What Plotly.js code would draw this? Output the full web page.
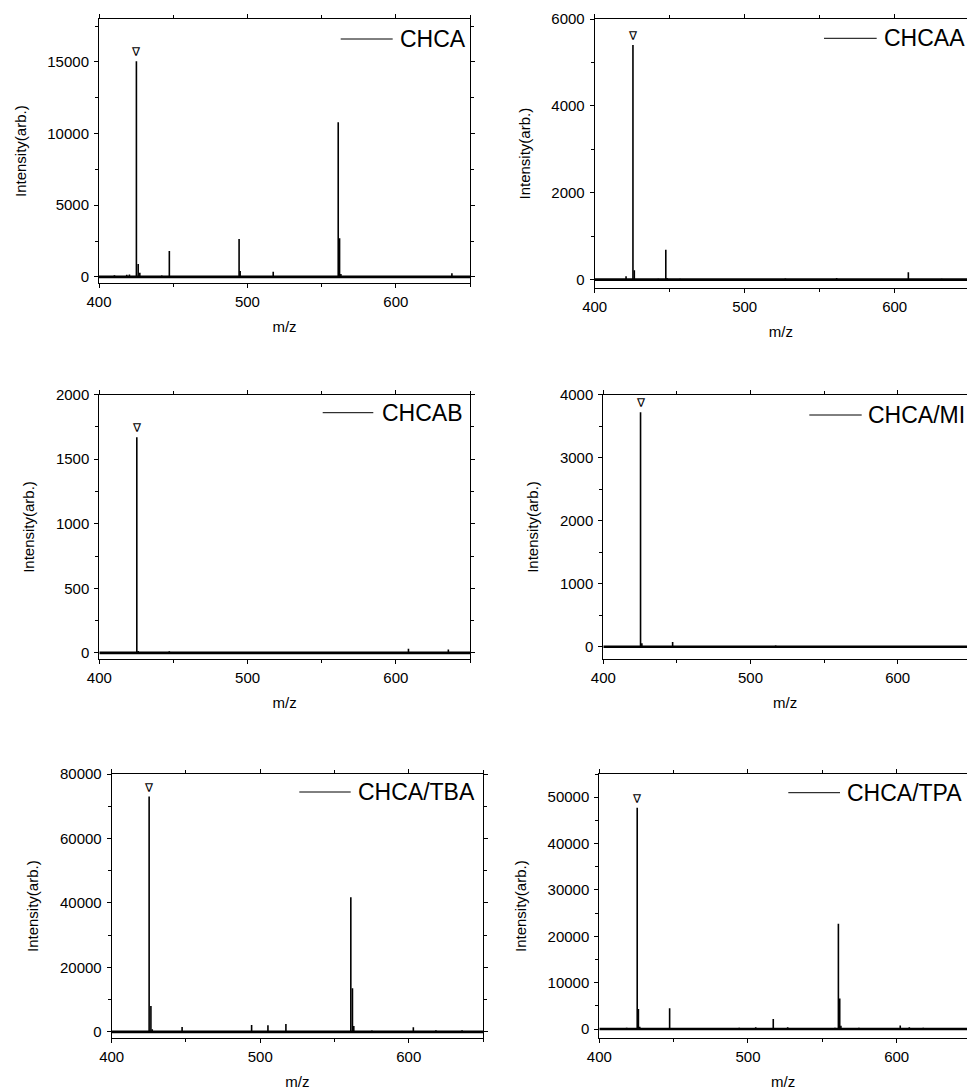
<!DOCTYPE html>
<html><head><meta charset="utf-8">
<script src="https://cdn.plot.ly/plotly-3.0.1.min.js"></script>
<style>html,body{margin:0;padding:0;background:#fff}</style>
</head><body><div id="chart" style="width:967px;height:1090px"></div>
<script>
// ---------------- data ----------------
const samples = ["CHCA", "CHCAA", "CHCAB", "CHCA/MI", "CHCA/TBA", "CHCA/TPA"];
const xTitle = "m/z";
const yTitle = "Intensity(arb.)";
const peakMark = "∇";

const mz_CHCA  = [410.4, 418.7, 420.5, 425.2, 426.4, 427.5, 442.3, 447.4, 494.4, 495.1, 517.4, 561.2, 562.1, 563.0, 609.0, 637.8];
const int_CHCA = [110, 150, 160, 15050, 890, 280, 90, 1800, 2650, 400, 350, 10800, 2700, 200, 60, 250];

const mz_CHCAA  = [420.9, 425.5, 426.4, 442.4, 447.4, 448.2, 456.9, 505.0, 527.1, 561.3, 609.1, 631.3];
const int_CHCAA = [75, 5400, 215, 20, 690, 40, 20, 15, 25, 35, 170, 20];

const mz_CHCAB  = [425.3, 426.2, 447.2, 608.5, 635.4];
const int_CHCAB = [1670, 15, 12, 32, 25];

const mz_MI  = [425.3, 426.2, 447.1, 517.1];
const int_MI = [3720, 55, 75, 20];

const mz_TBA  = [410.1, 418.3, 425.2, 426.4, 427.3, 447.4, 480.5, 494.2, 505.2, 517.3, 527.2, 559.0, 561.0, 562.1, 563.0, 575.2, 583.4, 587.2, 591.0, 603.1, 618.3, 635.9];
const int_TBA = [200, 300, 73000, 8000, 800, 1500, 200, 2100, 2050, 2450, 200, 300, 41800, 13500, 1800, 400, 300, 300, 300, 1400, 500, 500];

const mz_TPA  = [418.4, 425.5, 426.3, 427.2, 447.3, 483.4, 494.1, 505.2, 517.0, 526.7, 558.5, 560.8, 561.7, 562.5, 574.6, 586.5, 602.4, 608.5, 617.9, 634.7];
const int_TPA = [300, 47700, 4300, 500, 4500, 200, 300, 400, 2150, 400, 300, 22700, 6600, 700, 300, 200, 750, 400, 250, 200];

const mzAll  = [mz_CHCA, mz_CHCAA, mz_CHCAB, mz_MI, mz_TBA, mz_TPA];
const intAll = [int_CHCA, int_CHCAA, int_CHCAB, int_MI, int_TBA, int_TPA];

// ---------------- layout (pixel boxes of each panel) ----------------
const W = 967, H = 1090;
const FONT = "Liberation Sans, Arial, sans-serif";
const panels = [
  {l: 99,    r: 470, t: 19,    b: 283.3,  xr: [400, 650],   yr: [-450, 18000], dt: 5000,  mirrorY: true,
   leg: {x0: 340.7, x1: 392.7, y: 39,   tx: 398}},
  {l: 594.7, r: 967, t: 19,    b: 288.3,  xr: [400, 648.2], yr: [-200, 6000],  dt: 2000,  mirrorY: false,
   leg: {x0: 824,   x1: 876.7, y: 38.3, tx: 882}},
  {l: 99.3,  r: 470, t: 394.7, b: 659.3,  xr: [400, 650],   yr: [-50, 2000],   dt: 500,   mirrorY: true,
   leg: {x0: 322.7, x1: 373.3, y: 412.7, tx: 379.5}},
  {l: 603.3, r: 967, t: 394.7, b: 659.3,  xr: [400, 647.1], yr: [-200, 4000],  dt: 1000,  mirrorY: false,
   leg: {x0: 809.3, x1: 861.7, y: 415,  tx: 866}},
  {l: 111.7, r: 483, t: 774,   b: 1038.3, xr: [400, 650],   yr: [-2000, 80000], dt: 20000, mirrorY: true,
   leg: {x0: 299.3, x1: 350.7, y: 792,  tx: 356}},
  {l: 599.3, r: 967, t: 774,   b: 1038.3, xr: [400, 647.3], yr: [-2000, 55000], dt: 10000, mirrorY: false,
   leg: {x0: 788.3, x1: 840,   y: 792.7, tx: 845}}
];

const traces = [];
const layout = {
  width: W, height: H,
  margin: {l: 0, r: 0, t: 0, b: 0},
  paper_bgcolor: "#fff", plot_bgcolor: "#fff",
  showlegend: false,
  font: {family: FONT, color: "#000", size: 15},
  shapes: [], annotations: []
};

panels.forEach((p, i) => {
  const n = i + 1;
  const xa = "x" + (n === 1 ? "" : n), ya = "y" + (n === 1 ? "" : n);
  const xk = "xaxis" + (n === 1 ? "" : n), yk = "yaxis" + (n === 1 ? "" : n);
  const mz = mzAll[i], it = intAll[i];

  // baseline of the spectrum
  traces.push({
    type: "scatter", mode: "lines", x: [p.xr[0], 650], y: [0, 0],
    xaxis: xa, yaxis: ya, line: {color: "#000", width: 2.6},
    hoverinfo: "skip", name: samples[i] + " baseline"
  });
  // peak sticks
  const sx = [], sy = [];
  mz.forEach((m, k) => { sx.push(m, m, null); sy.push(0, it[k], null); });
  traces.push({
    type: "scatter", mode: "lines", x: sx, y: sy,
    xaxis: xa, yaxis: ya, line: {color: "#000", width: 1.6},
    name: samples[i], connectgaps: false
  });

  const tickfont = {family: FONT, size: 15, color: "#000"};
  layout[xk] = {
    domain: [p.l / W, p.r / W], anchor: ya, range: p.xr,
    showline: true, linecolor: "#000", linewidth: 1, mirror: "ticks",
    ticks: "outside", ticklen: 4, tickwidth: 1, tickcolor: "#000",
    tick0: 0, dtick: 100, tickformat: "d", tickfont: tickfont, ticklabelstandoff: 1,
    minor: {ticks: "outside", ticklen: 3, tickwidth: 1, tickcolor: "#000", dtick: 50, showgrid: false},
    showgrid: false, zeroline: false, fixedrange: true,
    title: {text: xTitle, font: {family: FONT, size: 15, color: "#000"}, standoff: 12}
  };
  layout[yk] = {
    domain: [1 - p.b / H, 1 - p.t / H], anchor: xa, range: p.yr,
    showline: true, linecolor: "#000", linewidth: 1, mirror: p.mirrorY ? "ticks" : false,
    ticks: "outside", ticklen: 4, tickwidth: 1, tickcolor: "#000",
    tick0: 0, dtick: p.dt, tickformat: "d", tickfont: tickfont, ticklabelstandoff: 2,
    minor: {ticks: "outside", ticklen: 3, tickwidth: 1, tickcolor: "#000", dtick: p.dt / 2, showgrid: false},
    showgrid: false, zeroline: false, fixedrange: true,
    title: {text: yTitle, font: {family: FONT, size: 15, color: "#000"}, standoff: 17}
  };

  // legend sample line + label
  layout.shapes.push({
    type: "line", xref: "paper", yref: "paper",
    x0: p.leg.x0 / W, x1: p.leg.x1 / W, y0: 1 - p.leg.y / H, y1: 1 - p.leg.y / H,
    line: {color: "#000", width: 1}
  });
  layout.annotations.push({
    xref: "paper", yref: "paper", x: p.leg.tx / W, y: 1 - p.leg.y / H,
    xanchor: "left", yanchor: "middle", showarrow: false,
    text: samples[i], font: {family: FONT, size: 23, color: "#000"}
  });

  // marker above the strongest peak
  let km = 0; it.forEach((v, k) => { if (v > it[km]) km = k; });
  layout.annotations.push({
    xref: xa, yref: ya, x: mz[km], y: it[km], xanchor: "center", yanchor: "bottom",
    showarrow: false, text: peakMark, yshift: 0,
    font: {family: "DejaVu Sans, sans-serif", size: 12, color: "#000"}
  });
});

Plotly.newPlot("chart", traces, layout, {staticPlot: true, displayModeBar: false});
</script>
</body></html>
